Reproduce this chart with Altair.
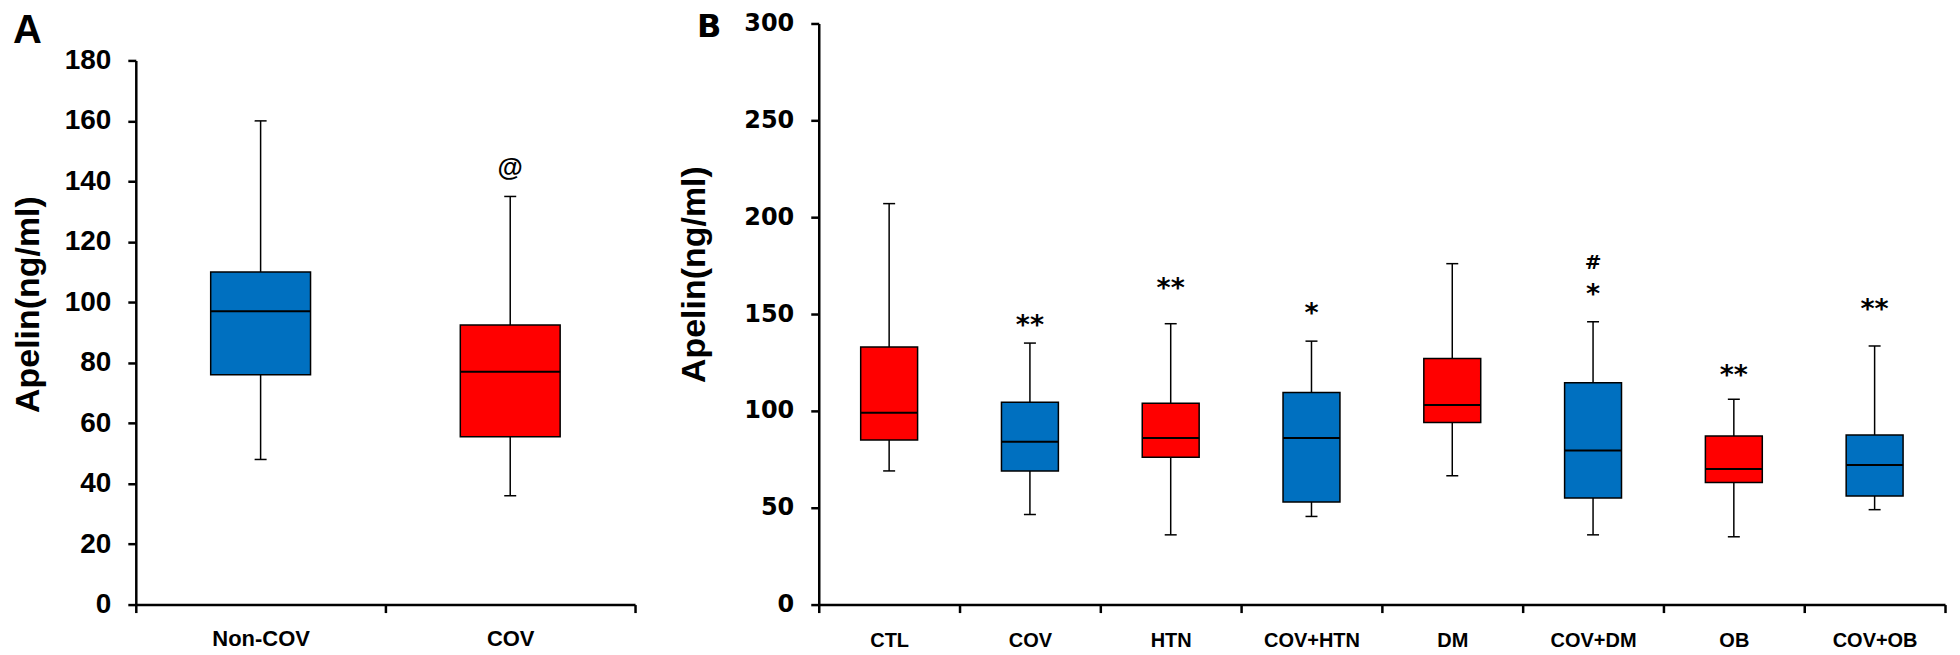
import altair as alt
import pandas as pd

BLACK = "#000000"
BLUE = "#0070C0"
RED = "#FF0000"

# ---------------- Panel A data ----------------
groups_a = ["Non-COV", "COV"]
fill_a = [BLUE, RED]
low_a = [48, 36]
q1_a = [76, 55.5]
median_a = [97, 77]
q3_a = [110, 92.5]
high_a = [160, 135]
sym_groups_a = ["COV"]
sym_labels_a = ["@"]
sym_values_a = [144]
ticks_a = [0, 20, 40, 60, 80, 100, 120, 140, 160, 180]

# ---------------- Panel B data ----------------
groups_b = ["CTL", "COV", "HTN", "COV+HTN", "DM", "COV+DM", "OB", "COV+OB"]
fill_b = [RED, BLUE, RED, BLUE, RED, BLUE, RED, BLUE]
low_b = [69, 46.5, 36, 45.5, 66.5, 36, 35, 49]
q1_b = [85, 69, 76, 53, 94, 55, 63, 56]
median_b = [99, 84, 86, 86, 103, 79.5, 70, 72]
q3_b = [133, 104.5, 104, 109.5, 127, 114.5, 87, 87.5]
high_b = [207, 135, 145, 136, 176, 146, 106, 133.5]
star_groups_b = ["COV", "HTN", "COV+HTN", "COV+DM", "OB", "COV+OB"]
star_labels_b = ["**", "**", "*", "*", "**", "**"]
star_values_b = [147, 166, 153, 163, 121, 155]
hash_groups_b = ["COV+DM"]
hash_labels_b = ["#"]
hash_values_b = [177]
ticks_b = [0, 50, 100, 150, 200, 250, 300]


def panel(groups, fills, low, q1, med, q3, high, width, height, y_domain,
          y_range, y_ticks, box_w, y_label_font, y_label_size, x_label_size,
          x_label_pad, title_x, title_y, letter, letter_font, letter_size,
          letter_x, letter_y, sym_sets):
    df = pd.DataFrame(dict(group=groups, fill=fills, low=low, q1=q1,
                           median=med, q3=q3, high=high))
    xs = alt.Scale(domain=groups, paddingInner=0, paddingOuter=0)
    ys = alt.Scale(domain=y_domain, range=y_range, nice=False, zero=False)
    xaxis = alt.Axis(title=None, tickBand="extent", labelAngle=0,
                     labelFont="Liberation Sans", labelFontWeight="bold",
                     labelFontSize=x_label_size, labelPadding=x_label_pad,
                     tickSize=8, tickWidth=2.5, domainWidth=2.5,
                     labelColor=BLACK, domainColor=BLACK, tickColor=BLACK)
    yaxis = alt.Axis(title="Apelin(ng/ml)", values=y_ticks, grid=False,
                     labelFont=y_label_font, labelFontWeight="bold",
                     labelFontSize=y_label_size, labelPadding=17,
                     tickSize=8, tickWidth=2.5, domainWidth=2.5,
                     labelColor=BLACK, domainColor=BLACK, tickColor=BLACK,
                     titleFont="Liberation Sans", titleFontWeight="bold",
                     titleFontSize=34, titleColor=BLACK, titleAngle=270,
                     titleAlign="center", titleBaseline="middle",
                     titleX=title_x, titleY=title_y)
    x = alt.X("group:N", scale=xs, axis=xaxis)

    def y(field):
        return alt.Y(field, scale=ys, axis=yaxis)

    base = alt.Chart(df)
    whisk = base.mark_rule(color=BLACK, strokeWidth=1.5).encode(
        x=x, y=y("low:Q"), y2="high:Q")
    cap_lo = base.mark_tick(color=BLACK, size=12, thickness=1.5, opacity=1).encode(
        x=x, y=y("low:Q"))
    cap_hi = base.mark_tick(color=BLACK, size=12, thickness=1.5, opacity=1).encode(
        x=x, y=y("high:Q"))
    box = base.mark_bar(size=box_w, stroke=BLACK, strokeWidth=1.5, opacity=1).encode(
        x=x, y=y("q1:Q"), y2="q3:Q", color=alt.Color("fill:N", scale=None))
    med_t = base.mark_tick(color=BLACK, size=box_w, thickness=2, opacity=1).encode(
        x=x, y=y("median:Q"))
    layers = [whisk, cap_lo, cap_hi, box, med_t]
    for (g, labs, vals, font, size, dy) in sym_sets:
        sdf = pd.DataFrame(dict(group=g, label=labs, value=vals))
        layers.append(
            alt.Chart(sdf).mark_text(font=font, fontWeight="bold", fontSize=size,
                                     baseline="alphabetic", dy=dy, color=BLACK)
            .encode(x=x, y=y("value:Q"), text="label:N"))
    ldf = pd.DataFrame(dict(t=[letter]))
    layers.append(
        alt.Chart(ldf).mark_text(align="left", baseline="top", font=letter_font,
                                 fontWeight="bold", fontSize=letter_size, color=BLACK)
        .encode(x=alt.value(letter_x), y=alt.value(letter_y), text="t:N"))
    return alt.layer(*layers).properties(width=width, height=height)


pa = panel(groups_a, fill_a, low_a, q1_a, median_a, q3_a, high_a,
           width=500, height=582, y_domain=[0, 180], y_range=[582, 37],
           y_ticks=ticks_a, box_w=100, y_label_font="Liberation Sans",
           y_label_size=28, x_label_size=22, x_label_pad=16,
           title_x=-107, title_y=281, letter="A", letter_font="Liberation Sans",
           letter_size=40, letter_x=-123, letter_y=-12,
           sym_sets=[(sym_groups_a, sym_labels_a, sym_values_a,
                      "Liberation Sans", 26, 7)])

pb = panel(groups_b, fill_b, low_b, q1_b, median_b, q3_b, high_b,
           width=1128, height=582, y_domain=[0, 300], y_range=[582, 0],
           y_ticks=ticks_b, box_w=57, y_label_font="DejaVu Sans",
           y_label_size=24, x_label_size=20, x_label_pad=18,
           title_x=-124, title_y=251, letter="B", letter_font="DejaVu Sans",
           letter_size=32, letter_x=-122, letter_y=-11,
           sym_sets=[(star_groups_b, star_labels_b, star_values_b,
                      "DejaVu Sans", 27, 14),
                     (hash_groups_b, hash_labels_b, hash_values_b,
                      "DejaVu Sans", 20, 7)])

chart = alt.hconcat(pa, pb, spacing=184, bounds="flush").properties(
    padding={"left": 4, "top": 3, "right": 5, "bottom": 2},
    background="white",
).configure_view(stroke=None)

chart.save("out.html", embed_options={"renderer": "svg", "actions": False})
